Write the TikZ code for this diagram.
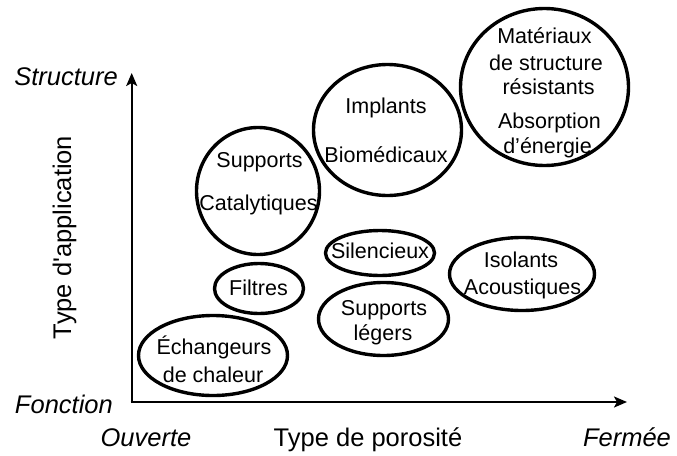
\documentclass[tikz,border=0pt]{standalone}
\usepackage{fontspec}
\setmainfont{Liberation Sans}
\newfontfamily\nomapsans{Liberation Sans}
\usetikzlibrary{shapes.geometric,arrows.meta}
\tikzset{
  ell/.style={draw=black, line width=3.4pt, ellipse, inner sep=0pt},
  lbl/.style={anchor=base, inner sep=0pt, font=\fontsize{21.5}{24}\selectfont},
  axlbl/.style={anchor=base, inner sep=0pt, font=\fontsize{25.5}{28}\selectfont\itshape},
  axtitle/.style={anchor=base, inner sep=0pt, font=\fontsize{25.5}{28}\selectfont},
  axis/.style={line width=2pt, -{Stealth[length=13pt,width=11pt,inset=3pt]}}
}
\begin{document}
\begin{tikzpicture}[x=1pt,y=-1pt]
\useasboundingbox (0,0) rectangle (677,455);
% axes
\coordinate (O) at (131.7,402);
\coordinate (Ytop) at (131.7,73);
\coordinate (Xend) at (627,402);
\draw[axis] ([yshift=-1pt]O) -- (Ytop);
\draw[axis] ([xshift=-1pt]O) -- (Xend);
% axis labels
\node[axlbl, anchor=base east] (lstruct) at (118,85) {Structure};
\node[axlbl, anchor=base east] (lfonct) at (113,413) {Fonction};
\node[axlbl] (louv) at (146,446.5) {Ouverte};
\node[axtitle] (lpor) at (368,446.5) {Type de porosité};
\node[axlbl] (lferm) at (627,446.5) {Fermée};
\node[axtitle, rotate=90] (lapp) at (71,237.5) {Type d{\nomapsans '}application};
% ellipses
\node[ell, minimum width=123pt, minimum height=127pt] (sc) at (258,191) {};
\node[ell, minimum width=148pt, minimum height=131pt] (ib) at (387.5,130) {};
\node[ell, minimum width=168pt, minimum height=157pt] (ms) at (544.5,87) {};
\node[ell, minimum width=89pt, minimum height=50pt] (fi) at (259,288.5) {};
\node[ell, minimum width=149pt, minimum height=80pt] (ec) at (213,355.5) {};
\node[ell, minimum width=109pt, minimum height=45pt] (si) at (380,253) {};
\node[ell, minimum width=130pt, minimum height=73pt] (sl) at (383.5,319) {};
\node[ell, minimum width=145pt, minimum height=73pt] (ia) at (522,274) {};
% texts
\node[lbl] (t1a) at (259.5,167.7) {Supports};
\node[lbl] (t1b) at (258.5,210.7) {Catalytiques};
\node[lbl] (t2a) at (386,113.7) {Implants};
\node[lbl] (t2b) at (386,162.7) {Biomédicaux};
\node[lbl] (t3a) at (544.5,43.7) {Matériaux};
\node[lbl] (t3b) at (546,70.7) {de structure};
\node[lbl] (t3c) at (548.5,94.7) {résistants};
\node[lbl] (t3d) at (549.5,128.7) {Absorption};
\node[lbl] (t3e) at (547.5,153.7) {d’énergie};
\node[lbl] (t4) at (258.5,295.7) {Filtres};
\node[lbl] (t5a) at (214,354.7) {Échangeurs};
\node[lbl] (t5b) at (213,382.7) {de chaleur};
\node[lbl] (t6) at (380,258.7) {Silencieux};
\node[lbl] (t7a) at (384,315.7) {Supports};
\node[lbl] (t7b) at (383,340.7) {légers};
\node[lbl] (t8a) at (521,267.7) {Isolants};
\node[lbl] (t8b) at (522.5,294.7) {Acoustiques};
\end{tikzpicture}
\end{document}
